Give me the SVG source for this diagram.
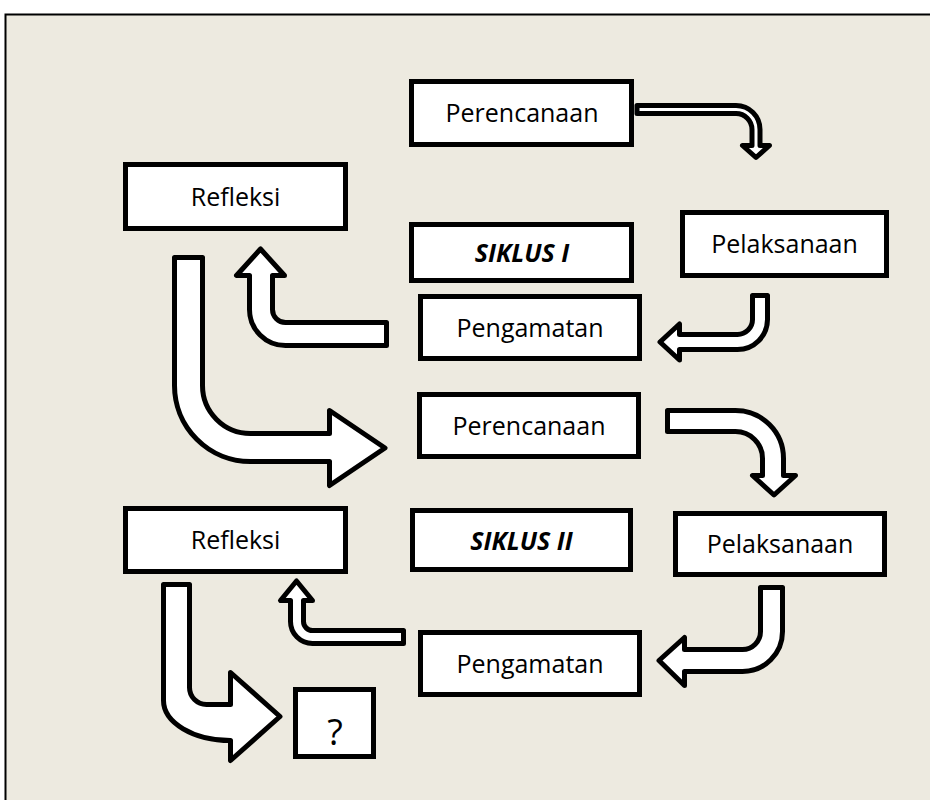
<svg xmlns="http://www.w3.org/2000/svg" width="930" height="800" viewBox="0 0 930 800">
<style>
.box{fill:#fff;stroke:#000;stroke-width:5}
.lbl{font-family:"Open Sans","Liberation Sans",sans-serif;font-size:25px;fill:#000;text-anchor:middle}
.bi{font-weight:bold;font-style:italic}
.arr{fill:#fff;stroke:#000;stroke-width:5;stroke-linejoin:round}
</style>
<rect x="0" y="0" width="930" height="800" fill="#fff"/>
<rect x="5.5" y="14.5" width="1000" height="1000" fill="#EDEAE0" stroke="#000" stroke-width="2"/>
<g id="connectors">
<path class="arr" d="M637,105.5 H736 A24,24 0 0 1 760,129.5 V145.5 H769.5 L756,157.5 L742.5,145.5 H752 V129.5 A16,16 0 0 0 736,113.5 H637 Z"/>
<path class="arr" d="M752.5,295.5 H767.5 V319.5 A30,30 0 0 1 737.5,349.5 H679.5 V360 L660,342 L679.5,324 V334.5 H737.5 A15,15 0 0 0 752.5,319.5 Z"/>
<path class="arr" d="M386.5,322.5 H285.5 A13,13 0 0 1 272.5,309.5 V275.5 H284.5 L260.5,249 L236.5,275.5 H249.5 V309.5 A36,36 0 0 0 285.5,345.5 H386.5 Z"/>
<path class="arr" d="M174.5,257.5 H202.5 V385.5 A48,48 0 0 0 250.5,433.5 H329.5 V410.5 L385,448 L329.5,485.5 V461.5 H250.5 A76,76 0 0 1 174.5,385.5 Z"/>
<path class="arr" d="M667.5,410.5 H735.5 A48,48 0 0 1 783.5,458.5 V475.5 H795.5 L774,495 L752.5,475.5 H762.5 V458.5 A27,27 0 0 0 735.5,431.5 H667.5 Z"/>
<path class="arr" d="M760.5,587.5 H782.5 V631.5 A40,40 0 0 1 742.5,671.5 H684.5 V685.5 L659,660.5 L684.5,637.5 V649.5 H742.5 A18,18 0 0 0 760.5,631.5 Z"/>
<path class="arr" d="M403.5,630.5 H312.5 A9,9 0 0 1 303.5,621.5 V600.5 H312.5 L296.5,581 L280.5,600.5 H290.5 V621.5 A22,22 0 0 0 312.5,643.5 H403.5 Z"/>
<path class="arr" d="M163.5,584.5 H189.5 V687.5 A17,17 0 0 0 206.5,704.5 H230.5 V672.5 L280,716.5 L230.5,760.5 V740.5 A67,40 0 0 1 163.5,700.5 Z"/>
</g>
<g id="perencanaan1"><rect class="box" x="411.5" y="81.5" width="220" height="63"/><text class="lbl" x="522" y="121.5">Perencanaan</text></g>
<g id="refleksi1"><rect class="box" x="125.5" y="164.5" width="220" height="64"/><text class="lbl" x="235.5" y="205.5">Refleksi</text></g>
<g id="siklus1"><rect class="box" x="411.5" y="224.5" width="220" height="56"/><text class="lbl bi" x="522" y="261.5">SIKLUS I</text></g>
<g id="pelaksanaan1"><rect class="box" x="682.5" y="212.5" width="204" height="63"/><text class="lbl" x="784.5" y="253">Pelaksanaan</text></g>
<g id="pengamatan1"><rect class="box" x="420.5" y="296.5" width="219" height="62"/><text class="lbl" x="530" y="336.5">Pengamatan</text></g>
<g id="perencanaan2"><rect class="box" x="419.5" y="394.5" width="219" height="62"/><text class="lbl" x="529" y="434.5">Perencanaan</text></g>
<g id="siklus2"><rect class="box" x="412.5" y="510.5" width="218" height="59"/><text class="lbl bi" x="521.5" y="549.5">SIKLUS II</text></g>
<g id="pelaksanaan2"><rect class="box" x="675.5" y="513.5" width="209" height="61"/><text class="lbl" x="780" y="553">Pelaksanaan</text></g>
<g id="refleksi2"><rect class="box" x="125.5" y="508.5" width="220" height="63"/><text class="lbl" x="235.5" y="548.5">Refleksi</text></g>
<g id="pengamatan2"><rect class="box" x="420.5" y="632.5" width="219" height="62"/><text class="lbl" x="530" y="672.5">Pengamatan</text></g>
<g id="unknown"><rect class="box" x="295.5" y="689.5" width="78" height="67"/><text class="lbl" x="335" y="745" style="font-size:36px">?</text></g>
</svg>
